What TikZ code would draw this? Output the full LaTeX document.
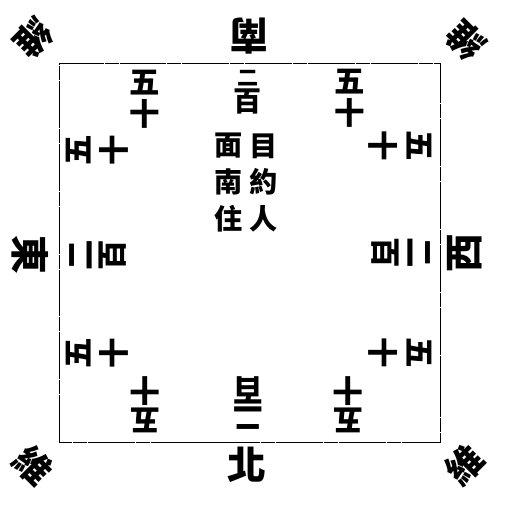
\documentclass[tikz,border=0pt]{standalone}
\usepackage{fontspec}
\newfontfamily\cjk{Noto Sans CJK TC}
\usepackage{tikz}

\begin{document}
\begin{tikzpicture}
      \tikzstyle{chiffre}=[font=\cjk\bfseries\fontsize{26}{26}\selectfont, inner sep=0pt]
      \tikzstyle{centre}=[font=\cjk\bfseries\fontsize{24}{24}\selectfont, inner sep=0pt]
      \tikzstyle{point}=[font=\cjk\bfseries\fontsize{33}{33}\selectfont, inner sep=0pt]
      \tikzstyle{coin}=[font=\cjk\bfseries\fontsize{31}{31}\selectfont, inner sep=0pt]
      \tikzstyle{cadre}=[line width=0.6pt, dash pattern=on 40pt off 0.8pt on 12pt off 0.8pt]

      \useasboundingbox (0,0) rectangle (15.12,15.18);

      % le carre
      \coordinate (SO) at (1.77,1.92);
      \coordinate (NE) at (13.2,13.29);
      \draw[cadre] (SO) rectangle (NE);

      % points cardinaux
      \node[point, rotate=180] (Sud) at (7.47,14.1) {南};
      \node[point] (Nord) at (7.41,1.23) {北};
      \node[point, rotate=-90] (Est) at (0.9,7.53) {東};
      \node[point, rotate=90] (Ouest) at (13.95,7.59) {西};

      % les quatre coins
      \node[coin, rotate=-135] (CoinNO) at (0.99,14.04) {維};
      \node[coin, rotate=135] (CoinNE) at (13.98,13.98) {維};
      \node[coin, rotate=-45] (CoinSO) at (0.99,1.2) {維};
      \node[coin, rotate=45] (CoinSE) at (13.95,1.23) {維};

      % cote haut
      \node[chiffre, font=\cjk\bfseries\fontsize{18}{18}\selectfont, anchor=base, text height=13pt, text depth=0pt] (HautDeux) at (7.44,12.6) {二};
      \node[chiffre, font=\cjk\bfseries\fontsize{24}{24}\selectfont, anchor=base, text height=18pt, text depth=0pt] (HautCent) at (7.44,11.82) {百};
      \node[chiffre] (HGCinq) at (4.35,12.69) {五};
      \node[chiffre] (HGDix) at (4.35,11.76) {十};
      \node[chiffre] (HDCinq) at (10.5,12.72) {五};
      \node[chiffre] (HDDix) at (10.5,11.79) {十};

      % cote gauche
      \node[chiffre, rotate=90] (GHCinq) at (2.37,10.68) {五};
      \node[chiffre, rotate=90] (GHDix) at (3.42,10.68) {十};
      \node[chiffre, rotate=90] (GDeux) at (2.43,7.53) {二};
      \node[chiffre, rotate=90] (GCent) at (3.39,7.53) {百};
      \node[chiffre, rotate=90] (GBCinq) at (2.37,4.59) {五};
      \node[chiffre, rotate=90] (GBDix) at (3.42,4.59) {十};

      % cote droit
      \node[chiffre, rotate=-90] (DHDix) at (11.49,10.8) {十};
      \node[chiffre, rotate=-90] (DHCinq) at (12.57,10.8) {五};
      \node[chiffre, rotate=-90] (DCent) at (11.55,7.59) {百};
      \node[chiffre, rotate=-90] (DDeux) at (12.57,7.59) {二};
      \node[chiffre, rotate=-90] (DBDix) at (11.49,4.59) {十};
      \node[chiffre, rotate=-90] (DBCinq) at (12.57,4.59) {五};

      % cote bas
      \node[chiffre, rotate=180] (BGDix) at (4.35,3.45) {十};
      \node[chiffre, rotate=180] (BGCinq) at (4.35,2.58) {五};
      \node[chiffre, rotate=180] (BasCent) at (7.44,3.48) {百};
      \node[chiffre, rotate=180] (BasDeux) at (7.44,2.64) {二};
      \node[chiffre, rotate=180] (BDDix) at (10.44,3.45) {十};
      \node[chiffre, rotate=180] (BDCinq) at (10.44,2.58) {五};

      % texte du milieu
      \node[centre] (Mil1) at (7.92,10.8) {目};
      \node[centre] (Mil2) at (7.92,9.72) {約};
      \node[centre] (Mil3) at (7.92,8.61) {人};
      \node[centre] (Mil4) at (6.87,10.8) {面};
      \node[centre] (Mil5) at (6.87,9.72) {南};
      \node[centre] (Mil6) at (6.87,8.61) {住};

    \end{tikzpicture}
\end{document}
